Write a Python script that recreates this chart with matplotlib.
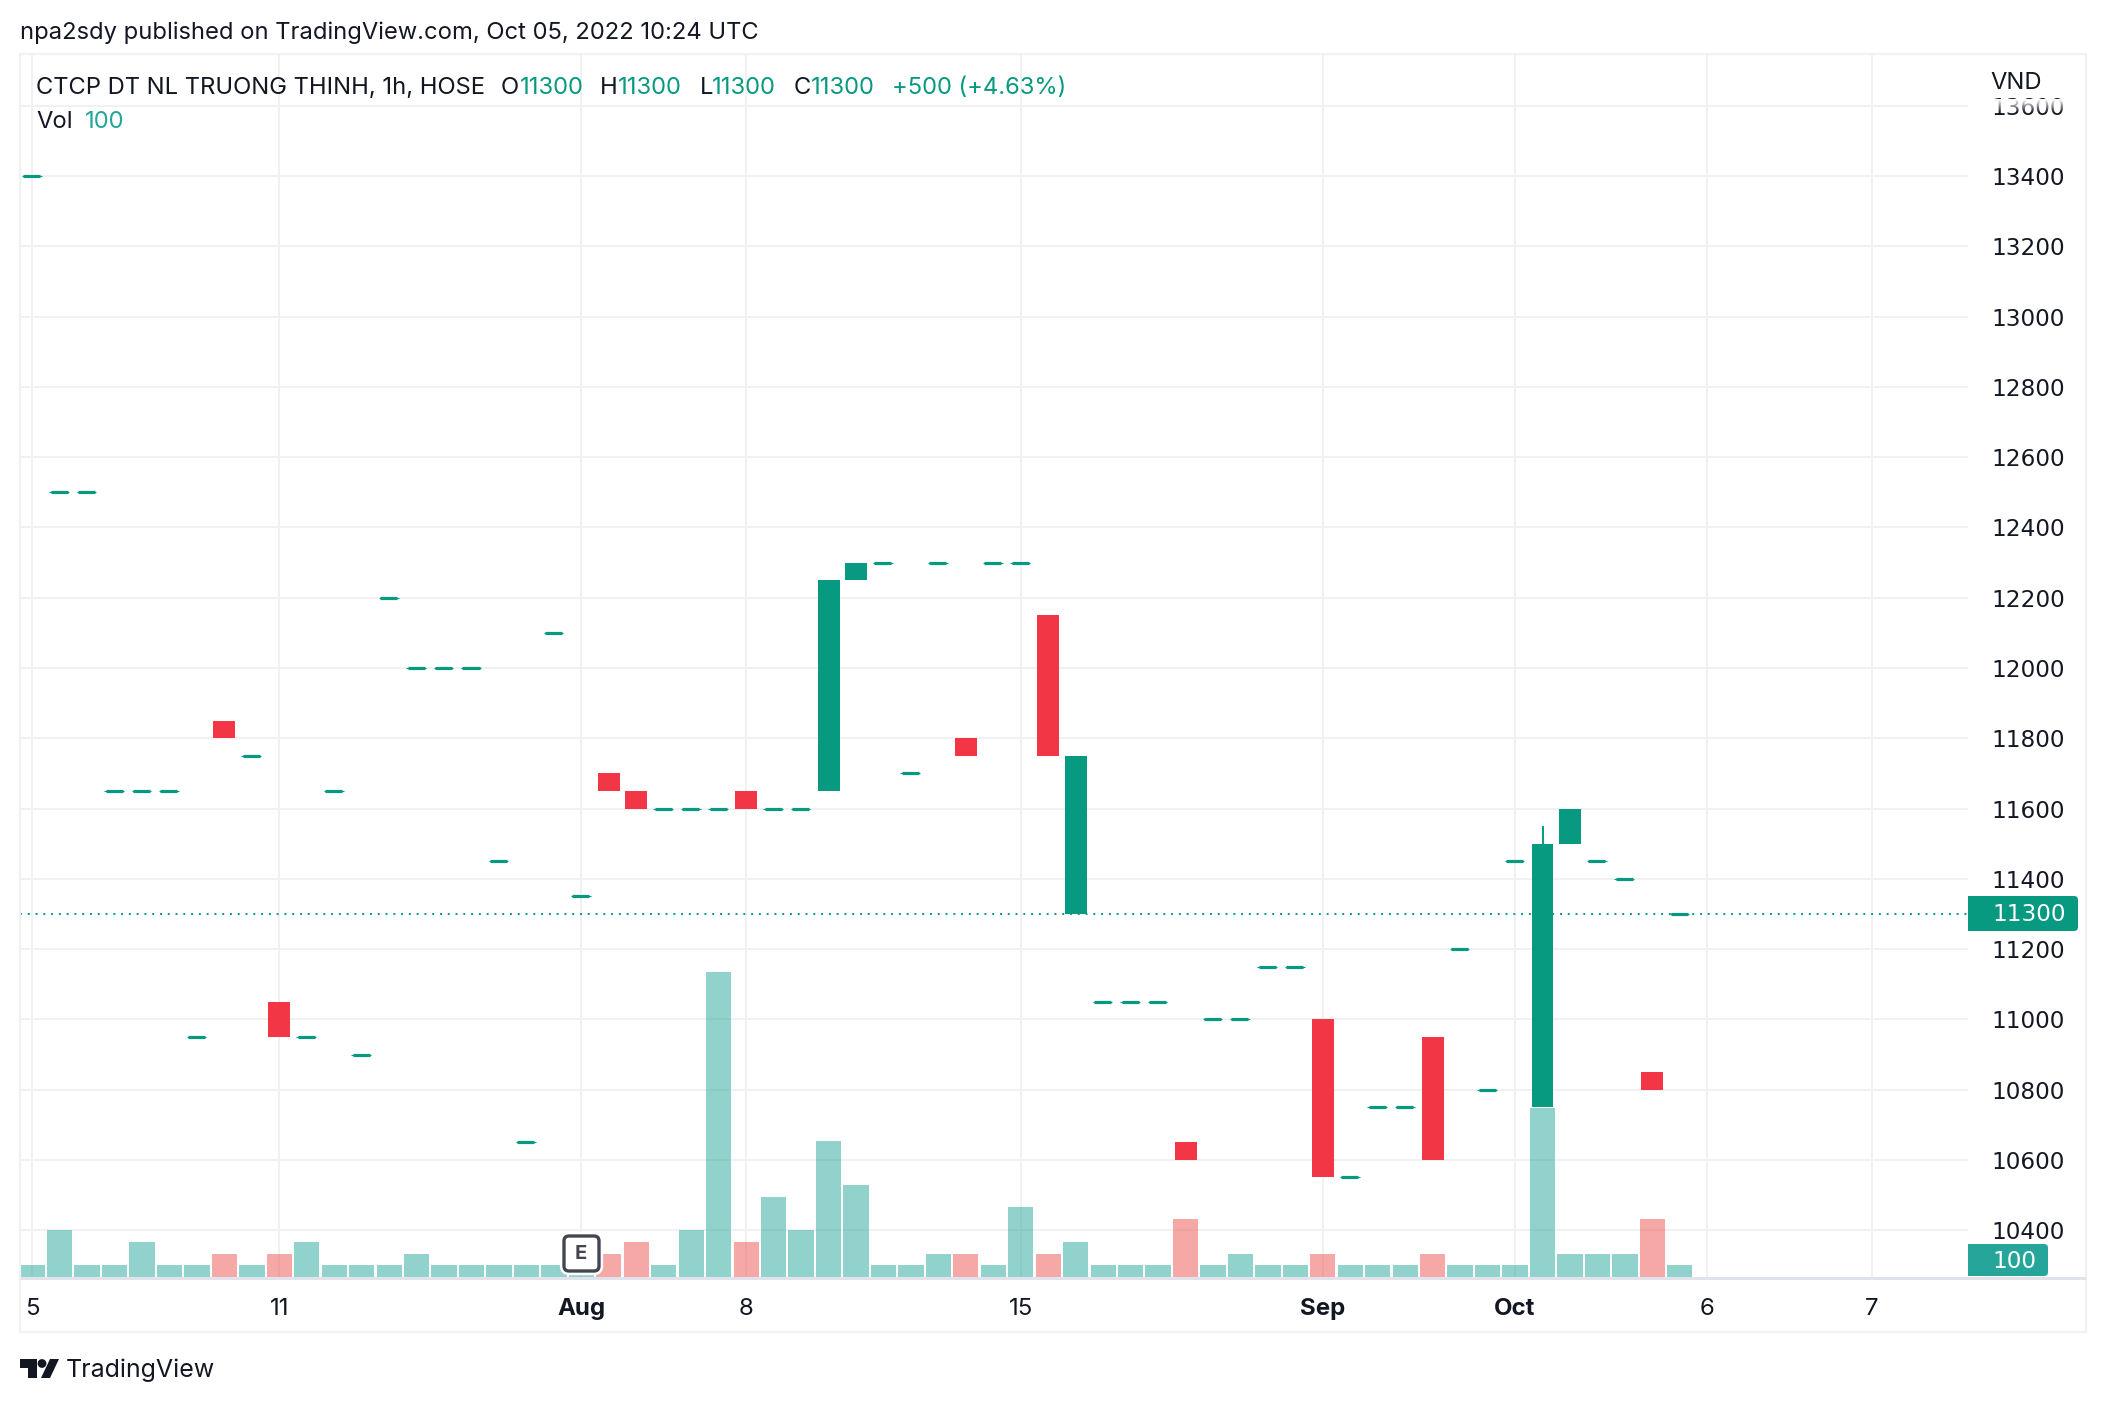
import numpy as np
import matplotlib
matplotlib.use("Agg")
import matplotlib.pyplot as plt
from matplotlib.patches import FancyBboxPatch, Rectangle, Polygon, Circle

plt.rcParams['font.family'] = ['Inter', 'DejaVu Sans']

opens = [13400, 12500, 12500, 11650, 11650, 11650, 10950, 11850, 11750, 11050,
         10950, 11650, 10900, 12200, 12000, 12000, 12000, 11450, 10650, 12100,
         11350, 11700, 11650, 11600, 11600, 11600, 11650, 11600, 11600, 11650,
         12250, 12300, 11700, 12300, 11800, 12300, 12300, 12150, 11300, 11050,
         11050, 11050, 10650, 11000, 11000, 11150, 11150, 11000, 10550, 10750,
         10750, 10950, 11200, 10800, 11450, 10750, 11500, 11450, 11400, 10850,
         11300]
closes = [13400, 12500, 12500, 11650, 11650, 11650, 10950, 11800, 11750, 10950,
          10950, 11650, 10900, 12200, 12000, 12000, 12000, 11450, 10650, 12100,
          11350, 11650, 11600, 11600, 11600, 11600, 11600, 11600, 11600, 12250,
          12300, 12300, 11700, 12300, 11750, 12300, 12300, 11750, 11750, 11050,
          11050, 11050, 10600, 11000, 11000, 11150, 11150, 10550, 10550, 10750,
          10750, 10600, 11200, 10800, 11450, 11500, 11600, 11450, 11400, 10800,
          11300]
volumes = [100, 400, 100, 100, 300, 100, 100, 200, 100, 200,
           300, 100, 100, 100, 200, 100, 100, 100, 100, 100,
           100, 200, 300, 100, 400, 2620, 300, 690, 400, 1170,
           790, 100, 100, 200, 200, 100, 600, 200, 300, 100,
           100, 100, 500, 100, 200, 100, 100, 200, 100, 100,
           100, 200, 100, 100, 100, 1450, 200, 200, 200, 500,
           100]
wick_bar = 55
wick_high = 11550
last_price = 11300

price_ticks = list(range(10400, 13800, 200))
time_ticks = [0, 9, 20, 26, 36, 47, 54, 61, 67]
time_labels = ['5', '11', 'Aug', '8', '15', 'Sep', 'Oct', '6', '7']
bold_labels = ['Aug', 'Sep', 'Oct']

GREEN = '#089981'
RED = '#f23645'
VOL_GREEN = '#26a69a'
VOL_RED = '#ef5350'
GRID = '#f1f1f4'
TEXT = '#131722'
W, H = 2106, 1404

# plot area in picture pixels
LEFT, RIGHT, TOP, BOTTOM = 20, 1968, 54, 1277
Y_13400, PX_PER_UNIT = 176, 0.3514
X_0, BAR_STEP = 32.2, 27.46
VOL_PX = 0.1165

fig = plt.figure(figsize=(W / 100, H / 100), dpi=100, facecolor='white')
ax = fig.add_axes([LEFT / W, 1 - BOTTOM / H, (RIGHT - LEFT) / W, (BOTTOM - TOP) / H])
ax.set_xlim((LEFT - X_0) / BAR_STEP, (RIGHT - X_0) / BAR_STEP)
ax.set_ylim(13400 - (BOTTOM - Y_13400) / PX_PER_UNIT, 13400 + (Y_13400 - TOP) / PX_PER_UNIT)

ax.set_axisbelow(True)
ax.grid(True, color=GRID, linewidth=1.4)
for s in ax.spines.values():
    s.set_visible(False)

ax.axhline(last_price, color=GREEN, linewidth=1.4, linestyle=(0, (1, 3)), zorder=1)

# candles, flat ones are a short thick dash
for i, (o, c) in enumerate(zip(opens, closes)):
    color = GREEN if c >= o else RED
    if o == c:
        ax.hlines(c, i - 0.38, i + 0.34, color=color, linewidth=0.8, zorder=3)
        ax.hlines(c, i - 0.33, i + 0.29, color=color, linewidth=2.3, zorder=3)
    else:
        ax.bar(i, abs(c - o), bottom=min(o, c), width=0.8, color=color, linewidth=0, zorder=3)
ax.vlines(wick_bar, max(opens[wick_bar], closes[wick_bar]), wick_high, color=GREEN, linewidth=1.4, zorder=3)

# volume sits on the same time scale, its own y
vol_ax = ax.twinx()
vol_ax.set_ylim(0, (BOTTOM - TOP) / VOL_PX)
vol_ax.set_yticks([])
vol_ax.patch.set_visible(False)
for s in vol_ax.spines.values():
    s.set_visible(False)
vol_colors = [VOL_GREEN if c >= o else VOL_RED for o, c in zip(opens, closes)]
vol_ax.bar(range(len(volumes)), volumes, width=0.92, color=vol_colors, alpha=0.5, linewidth=0)

# twinx moves the price ticks to the left, so set them up after it
ax.yaxis.tick_right()
ax.set_yticks(price_ticks)
ax.set_yticklabels([str(p) for p in price_ticks], fontsize=16.7, color=TEXT, family='DejaVu Sans')
ax.set_xticks(time_ticks)
ax.set_xticklabels(time_labels, fontsize=17.3, color=TEXT)
ax.tick_params(axis='y', length=0, pad=17)
ax.tick_params(axis='x', length=0, pad=15)
for t in ax.get_xticklabels():
    if t.get_text() in bold_labels:
        t.set_fontweight('bold')

# everything around the chart is drawn in picture pixels
top = fig.add_axes([0, 0, 1, 1], facecolor='none')
top.set_xlim(0, W)
top.set_ylim(H, 0)
top.axis('off')

top.add_patch(Rectangle((20, 54), 2066, 1278, fill=False, edgecolor=GRID, linewidth=1.6))
top.plot([20, 2086], [1278, 1278], color='#e0e3eb', linewidth=2.2, solid_capstyle='butt')


def label(x, y, s, color=TEXT, size=17.1, weight='normal', ha='left', family=None):
    top.text(x, y, s, color=color, fontsize=size, fontweight=weight, ha=ha, va='center', family=family)


def price_box(x0, x1, y0, y1, color, s):
    top.add_patch(FancyBboxPatch((x0 + 8, y0 + 3), x1 - x0 - 11, y1 - y0 - 6,
                                 boxstyle='round,pad=3,rounding_size=4',
                                 facecolor=color, edgecolor='none'))
    top.add_patch(Rectangle((x0, y0), 12, y1 - y0, facecolor=color, edgecolor='none'))
    label(1992, (y0 + y1) / 2 + 1, s, color='white', size=16.7, family='DejaVu Sans')


price_box(1968, 2078, 896, 931, GREEN, str(last_price))
price_box(1968, 2048, 1244, 1276, VOL_GREEN, str(volumes[-1]))

# 13600 fades out under the header
fade = np.ones((20, 2, 4))
fade[:, :, 3] = np.linspace(1, 0, 20)[:, None]
top.imshow(fade, extent=(1975, 2080, 113, 99), aspect='auto', zorder=5)
top.set_xlim(0, W)
top.set_ylim(H, 0)

label(20, 33, 'npa2sdy published on TradingView.com, Oct 05, 2022 10:24 UTC')
label(36, 88, 'CTCP DT NL TRUONG THINH, 1h, HOSE')
for x, s in [(501, 'O'), (600, 'H'), (700, 'L'), (794, 'C')]:
    label(x, 88, s)
for x, s in [(520, '11300'), (618, '11300'), (712, '11300'), (811, '11300'), (892, '+500 (+4.63%)')]:
    label(x, 88, s, color=GREEN)
label(36, 122, 'Vol')
label(85, 122, '100', color=VOL_GREEN)
label(1990, 83, 'VND')

# earnings marker
top.add_patch(FancyBboxPatch((565, 1237), 33, 33, boxstyle='round,pad=1,rounding_size=5',
                             facecolor='white', edgecolor='white', linewidth=6))
top.add_patch(FancyBboxPatch((565, 1237), 33, 33, boxstyle='round,pad=1,rounding_size=5',
                             facecolor='white', edgecolor='#434651', linewidth=2.4))
label(581, 1254, 'E', color='#434651', size=14.5, weight='bold', ha='center')

# logo
logo = '#131722'
top.add_patch(Polygon([(20, 1359), (37, 1359), (37, 1378), (28, 1378), (28, 1368), (20, 1368)], color=logo, lw=0))
top.add_patch(Circle((42, 1363.5), 4.4, color=logo, lw=0))
top.add_patch(Polygon([(50, 1359), (59, 1359), (50, 1378), (41, 1378)], color=logo, lw=0))
label(66, 1370, 'TradingView', size=18)

fig.savefig('out.png', dpi=100)
